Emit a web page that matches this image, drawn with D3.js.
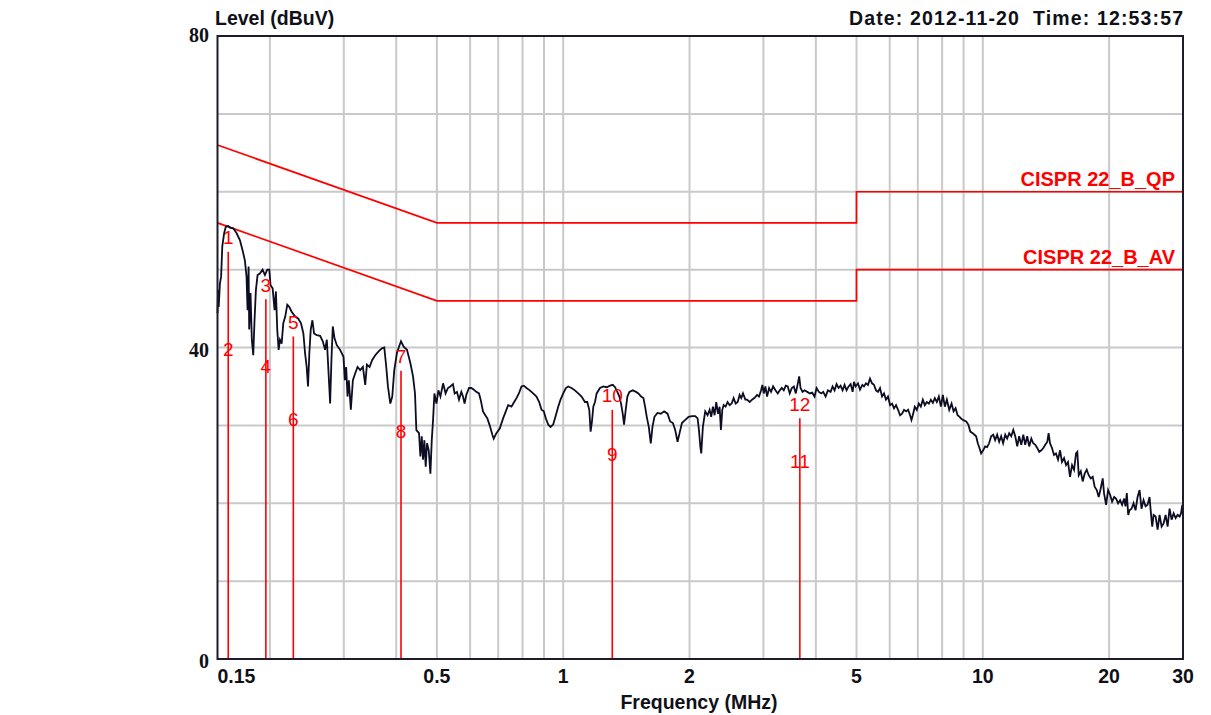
<!DOCTYPE html>
<html><head><meta charset="utf-8">
<script src="https://cdn.jsdelivr.net/npm/d3@7"></script>
<style>
html,body{margin:0;padding:0;background:#ffffff;}
svg{display:block;font-family:Arial,"Liberation Sans",sans-serif;}
text{white-space:pre;}
</style></head><body>
<svg id="chart" width="1211" height="715"></svg>
<script>
// Conducted emission scan, peak detector (frequency in MHz, level in dBuV)
const traceFreq = [
0.150,0.1505,0.151,0.152,0.153,0.154,0.1556,0.157,0.159,0.1608,
0.1635,0.1665,0.1696,0.1721,0.1743,0.1759,0.1769,0.1779,0.1785,0.1798,
0.1811,0.1825,0.1838,0.1852,0.1869,0.1893,0.1921,0.1946,0.1971,0.1993,
0.2007,0.2030,0.2052,0.2067,0.2082,0.2098,0.2113,0.2133,0.2152,0.2176,
0.2200,0.2225,0.2253,0.2295,0.2337,0.2372,0.2403,0.2425,0.2447,0.2465,
0.2483,0.2502,0.2525,0.2548,0.2586,0.2634,0.2673,0.2707,0.2733,0.2757,
0.2783,0.2803,0.2824,0.2850,0.2887,0.2940,0.2995,0.3017,0.3039,0.3062,
0.3084,0.3118,0.3153,0.3194,0.3235,0.3282,0.3331,0.3374,0.3405,0.3456,
0.3506,0.3565,0.3631,0.3698,0.3746,0.3787,0.3822,0.3872,0.3914,0.3957,
0.4016,0.4061,0.4106,0.4166,0.4243,0.4322,0.4386,0.4434,0.4467,0.4533,
0.4567,0.4601,0.4634,0.4668,0.4702,0.4737,0.4781,0.4825,0.4861,0.4896,
0.4932,0.4987,0.5042,0.5098,0.5173,
0.5244,0.5313,0.5381,0.5461,0.5511,0.5582,0.5644,0.5717,0.5770,0.5821,
0.5875,0.5963,0.6039,0.6117,0.6207,0.6299,0.6357,0.6439,0.6522,0.6595,
0.6680,0.6779,0.6829,0.6930,0.7059,0.7190,0.7297,0.7392,0.7528,0.7640,
0.7739,0.7840,0.7955,0.8054,0.8175,0.8324,0.8478,0.8636,0.8765,0.8876,
0.8990,0.9090,0.9209,0.9326,0.9465,0.9605,0.9729,0.9854,1.000,1.0148,
1.0278,1.0469,1.0663,1.0860,1.1061,1.1266,1.1411,1.1538,1.1624,1.1710,
1.1797,1.1906,1.2014,1.2237,1.2465,1.2694,1.2930,1.3122,1.3292,1.3459,
1.3610,1.3735,1.3862,1.3964,1.4091,1.4221,1.4379,1.4646,1.4915,1.5108,
1.5332,1.5531,1.5672,1.5817,1.5993,1.6170,1.6320,1.6498,1.6773,1.7085,
1.7400,1.7724,1.7987,1.8254,1.8489,1.8729,1.8937,1.9183,1.9536,1.9898,
2.0265,2.0640,2.0908,2.1063,2.1219,
2.133,2.152,2.180,2.208,2.233,2.253,2.274,2.295,2.316,2.338,
2.359,2.376,2.394,2.412,2.438,2.465,2.493,2.520,2.548,2.576,
2.605,2.633,2.657,2.682,2.717,2.742,2.783,2.818,2.855,2.897,
2.929,2.962,2.984,3.006,3.033,3.061,3.095,3.129,3.164,3.205,
3.246,3.282,3.318,3.355,3.392,3.429,3.467,3.506,3.545,3.584,
3.624,3.651,3.678,3.719,3.760,3.816,3.871,3.921,3.972,4.016,
4.068,4.121,4.166,4.220,4.274,4.337,4.385,4.433,4.482,4.532,
4.582,4.633,4.684,4.735,4.788,4.842,4.895,4.932,4.977,5.041,
5.097,5.163,5.210,5.268,5.326,5.385,5.445,5.504,5.565,5.627,
5.689,5.752,5.815,5.879,5.944,6.012,6.078,6.144,6.212,6.281,
6.351,6.421,6.491,6.563,6.637,6.710,6.761,6.811,6.885,6.961,
7.039,7.117,7.196,7.274,7.355,7.437,7.519,7.603,7.685,7.770,
7.857,7.944,8.032,8.120,8.210,8.318,8.425,8.518,8.612,8.708,
8.805,8.902,9.034,9.133,9.235,9.337,
9.465,9.552,9.640,9.729,9.818,9.909,10.02,10.13,10.24,10.35,
10.47,10.59,10.70,10.82,10.94,11.06,11.18,11.31,11.43,11.56,
11.69,11.82,11.95,12.08,12.21,12.35,12.49,12.62,12.76,12.90,
13.05,13.19,13.34,13.48,13.63,13.79,13.94,14.09,14.25,14.35,
14.46,14.62,14.78,14.94,15.11,15.28,15.44,15.62,15.79,15.96,
16.14,16.32,16.50,16.68,16.80,16.93,17.12,17.30,17.49,17.69,
17.88,18.08,18.28,18.48,18.69,18.89,19.10,19.31,19.45,19.67,
19.89,20.11,20.33,20.56,20.78,21.01,21.25,21.48,21.72,21.88,
22.04,22.21,22.37,22.62,22.87,23.12,23.38,23.64,23.89,24.16,
24.43,24.70,24.97,25.16,25.34,25.53,25.81,26.10,26.38,26.68,
26.97,27.27,27.57,27.87,28.18,28.50,28.81,29.13,29.45,29.67,
29.89
];
const traceLevel = [
44.4,47.4,45.2,48.2,49.1,53.0,54.7,55.5,55.6,55.4,
55.3,54.7,53.8,52.5,51.2,49.1,44.8,50.4,42.3,47.0,
41.0,39.0,43.5,47.4,49.3,49.5,50.0,49.3,50.0,50.0,
48.0,47.6,44.8,47.2,42.3,39.7,41.0,40.5,43.1,44.0,
45.5,45.2,44.6,44.0,43.7,43.1,41.8,39.3,37.5,35.0,
39.3,42.3,43.5,41.8,41.6,41.5,40.8,39.7,41.0,37.1,
32.8,38.4,42.7,41.2,40.3,39.7,38.8,35.8,37.5,33.7,
35.8,32.0,35.8,36.7,37.5,37.1,37.5,35.2,37.8,37.5,
38.4,39.0,39.5,39.9,40.0,37.5,35.0,32.8,33.7,37.1,
39.3,40.1,40.8,40.1,39.7,38.0,36.3,34.1,29.4,29.0,
26.0,28.6,25.6,28.1,24.7,27.7,26.8,23.8,28.1,30.7,
34.1,32.8,34.5,33.7,35.4,
34.1,34.8,35.0,35.3,34.1,34.3,33.3,34.3,33.7,32.8,
33.9,34.8,34.8,34.6,34.3,34.1,33.3,31.8,31.3,30.9,
30.0,28.8,28.3,29.0,29.6,30.9,31.8,32.6,32.4,33.0,
33.5,34.1,35.0,35.1,34.8,34.5,34.1,33.7,33.0,32.0,
31.8,30.9,30.1,29.8,30.1,31.3,32.4,33.3,34.1,34.8,
35.0,34.8,34.5,34.1,33.7,33.0,33.0,32.0,29.2,30.5,
32.4,33.0,34.1,34.8,35.0,34.9,35.1,35.2,34.9,34.3,
33.7,32.8,31.5,30.1,32.0,33.7,34.3,34.5,34.3,34.1,
33.7,33.5,32.4,31.1,29.8,27.7,29.8,31.1,31.6,31.5,
31.8,31.5,30.5,30.3,29.4,27.9,29.0,30.3,30.7,31.1,
31.2,31.2,30.9,29.4,27.3,
26.4,29.8,31.8,31.3,32.0,31.1,32.4,31.3,33.0,31.5,
32.4,29.4,32.0,32.6,32.4,33.0,32.6,32.8,33.5,32.8,
33.0,33.9,33.5,34.1,33.3,33.3,33.0,33.3,33.5,33.9,
33.7,34.5,35.2,34.1,35.0,33.7,34.8,34.3,35.0,34.5,
34.1,34.5,34.8,34.5,35.1,35.0,34.1,34.8,35.0,34.1,
35.4,36.3,34.8,34.3,34.5,34.3,34.1,34.2,33.7,34.8,
34.3,34.1,34.3,33.7,34.5,34.3,35.0,34.5,35.3,34.8,
35.1,34.5,35.2,34.5,35.0,35.3,34.3,35.6,35.0,35.4,
34.6,35.2,35.0,35.4,35.2,36.0,35.4,35.2,34.5,34.3,
34.8,33.7,34.1,33.3,33.7,32.6,32.8,32.2,32.6,32.0,
31.3,31.5,32.0,31.8,32.0,31.3,30.7,31.3,32.4,32.0,
32.8,32.4,33.3,32.6,33.0,32.8,33.3,32.9,33.5,33.0,
33.7,32.4,33.9,32.4,33.3,32.0,32.8,31.8,32.2,31.3,
31.1,30.8,30.6,30.5,30.1,29.2,
29.0,28.8,28.6,27.7,27.1,26.4,26.8,27.3,27.2,27.7,
28.6,28.8,28.1,28.8,27.9,28.6,27.7,28.8,28.3,29.0,
28.6,29.4,28.6,27.3,28.6,27.5,28.8,27.5,28.6,27.3,
28.3,27.7,27.5,27.1,26.6,26.8,27.1,27.5,27.9,29.0,
27.7,27.1,26.2,26.4,25.6,26.8,25.3,25.8,24.9,25.3,
23.4,24.9,24.3,26.4,26.6,23.6,24.1,22.8,23.8,24.3,
23.6,23.2,23.4,22.1,21.7,20.8,21.9,23.2,21.3,19.8,
21.7,21.1,20.2,20.8,20.6,20.0,20.4,19.8,20.6,19.6,
21.3,18.5,19.1,19.3,20.0,19.1,20.8,21.7,19.3,20.4,
19.6,19.8,20.8,18.7,17.0,18.5,18.3,16.6,18.5,17.0,
17.4,18.5,17.0,19.3,17.9,18.7,18.1,18.5,18.3,18.7,
19.8
];

// Limit lines
const qpName = "CISPR 22_B_QP";
const qpFreq = [0.15, 0.5, 5, 5, 30];
const qpLevel = [66, 56, 56, 60, 60];
const avName = "CISPR 22_B_AV";
const avFreq = [0.15, 0.5, 5, 5, 30];
const avLevel = [56, 46, 46, 50, 50];

// Final measurement markers (one vertical line carries two readings)
const markerFreq = [0.1591, 0.1956, 0.2274, 0.4106, 1.309, 3.664];
const markerHigh = [52.3, 46.2, 41.4, 37.0, 32.0, 30.9];
const markerHighLabel = ["1", "3", "5", "7", "10", "12"];
const markerLow = [37.9, 35.7, 28.9, 27.4, 24.4, 23.5];
const markerLowLabel = ["2", "4", "6", "8", "9", "11"];

// Axes
const xTickValues = [0.15, 0.5, 1, 2, 5, 10, 20, 30];
const xTickLabels = ["0.15", "0.5", "1", "2", "5", "10", "20", "30"];
const xGridValues = [0.2, 0.3, 0.4, 0.5, 0.6, 0.7, 0.8, 0.9, 1, 2, 3, 4, 5, 6, 7, 8, 9, 10, 20];
const yTickValues = [0, 40, 80];
const yGridValues = [10, 20, 30, 40, 50, 60, 70];
const yTitle = "Level (dBuV)";
const xTitle = "Frequency (MHz)";
const stamp = "Date: 2012-11-20  Time: 12:53:57";

const svg = d3.select("#chart");
const plotL = 217.5, plotR = 1183, plotT = 36, plotB = 659;
const x = d3.scaleLog().domain([0.15, 30]).range([plotL, plotR]);
const y = d3.scaleLinear().domain([0, 80]).range([plotB, plotT]);

svg.append("rect").attr("width", 1211).attr("height", 715).attr("fill", "#ffffff");

// grid
const grid = svg.append("g").attr("stroke", "#c9c9c9").attr("stroke-width", 2);
grid.selectAll("line.v").data(xGridValues).join("line").attr("class", "v")
  .attr("x1", d => x(d)).attr("x2", d => x(d)).attr("y1", plotT).attr("y2", plotB);
grid.selectAll("line.h").data(yGridValues).join("line").attr("class", "h")
  .attr("x1", plotL).attr("x2", plotR).attr("y1", d => y(d)).attr("y2", d => y(d));

// limit lines
const line = d3.line().x(d => x(d[0])).y(d => y(d[1]));
[[qpFreq, qpLevel, qpName], [avFreq, avLevel, avName]].forEach(([fs, ls, name]) => {
  const pts = fs.map((f, i) => [f, ls[i]]);
  svg.append("path").attr("d", line(pts)).attr("fill", "none")
    .attr("stroke", "#ff0000").attr("stroke-width", 1.7);
  svg.append("text").attr("x", plotR - 8).attr("y", y(ls[ls.length - 1]) - 6)
    .attr("text-anchor", "end").attr("font-weight", "bold").attr("font-size", 20)
    .attr("fill", "#ff0000").text(name);
});

// spectrum trace
const tracePts = traceFreq.map((f, i) => [f, traceLevel[i]]);
svg.append("path").attr("d", line(tracePts)).attr("fill", "none")
  .attr("stroke", "#0c0c22").attr("stroke-width", 1.8).attr("stroke-linejoin", "miter");

// markers
const mk = svg.append("g");
markerFreq.forEach((f, i) => {
  mk.append("line").attr("x1", x(f)).attr("x2", x(f)).attr("y1", y(0)).attr("y2", y(markerHigh[i]))
    .attr("stroke", "#ff0000").attr("stroke-width", 1.6);
  mk.append("text").attr("x", x(f)).attr("y", y(markerHigh[i]) - 7.5).attr("text-anchor", "middle")
    .attr("font-size", 19).attr("fill", "#ff0000").text(markerHighLabel[i]);
  mk.append("text").attr("x", x(f)).attr("y", y(markerLow[i]) - 7.5).attr("text-anchor", "middle")
    .attr("font-size", 19).attr("fill", "#ff0000").text(markerLowLabel[i]);
});

// frame
svg.append("rect").attr("x", plotL).attr("y", plotT).attr("width", plotR - plotL).attr("height", plotB - plotT)
  .attr("fill", "none").attr("stroke", "#1c1c2c").attr("stroke-width", 2);

// tick labels
svg.append("g").selectAll("text").data(xTickValues).join("text")
  .attr("x", (d, i) => i === 0 ? plotL : x(d))
  .attr("y", 683)
  .attr("text-anchor", (d, i) => i === 0 ? "start" : "middle")
  .attr("font-weight", "bold").attr("font-size", 19.5).attr("fill", "#101018")
  .text((d, i) => xTickLabels[i]);
svg.append("g").selectAll("text").data(yTickValues).join("text")
  .attr("x", 209).attr("y", d => y(d) + (d === 80 ? 6 : 9))
  .attr("text-anchor", "end").attr("font-family", "'Liberation Serif','Times New Roman',serif")
  .attr("font-weight", "bold").attr("font-size", 20).attr("fill", "#101018")
  .text(d => d);

// titles
svg.append("text").attr("x", 215).attr("y", 25).attr("font-weight", "bold").attr("font-size", 19.5)
  .attr("fill", "#101018").text(yTitle);
svg.append("text").attr("x", 1183).attr("y", 25).attr("text-anchor", "end").attr("font-weight", "bold")
  .attr("font-size", 19.5).attr("fill", "#101018")
  .attr("textLength", 334).attr("lengthAdjust", "spacing").text(stamp);
svg.append("text").attr("x", 699).attr("y", 709).attr("text-anchor", "middle").attr("font-weight", "bold")
  .attr("font-size", 19.5).attr("fill", "#101018").text(xTitle);
</script>
</body></html>
